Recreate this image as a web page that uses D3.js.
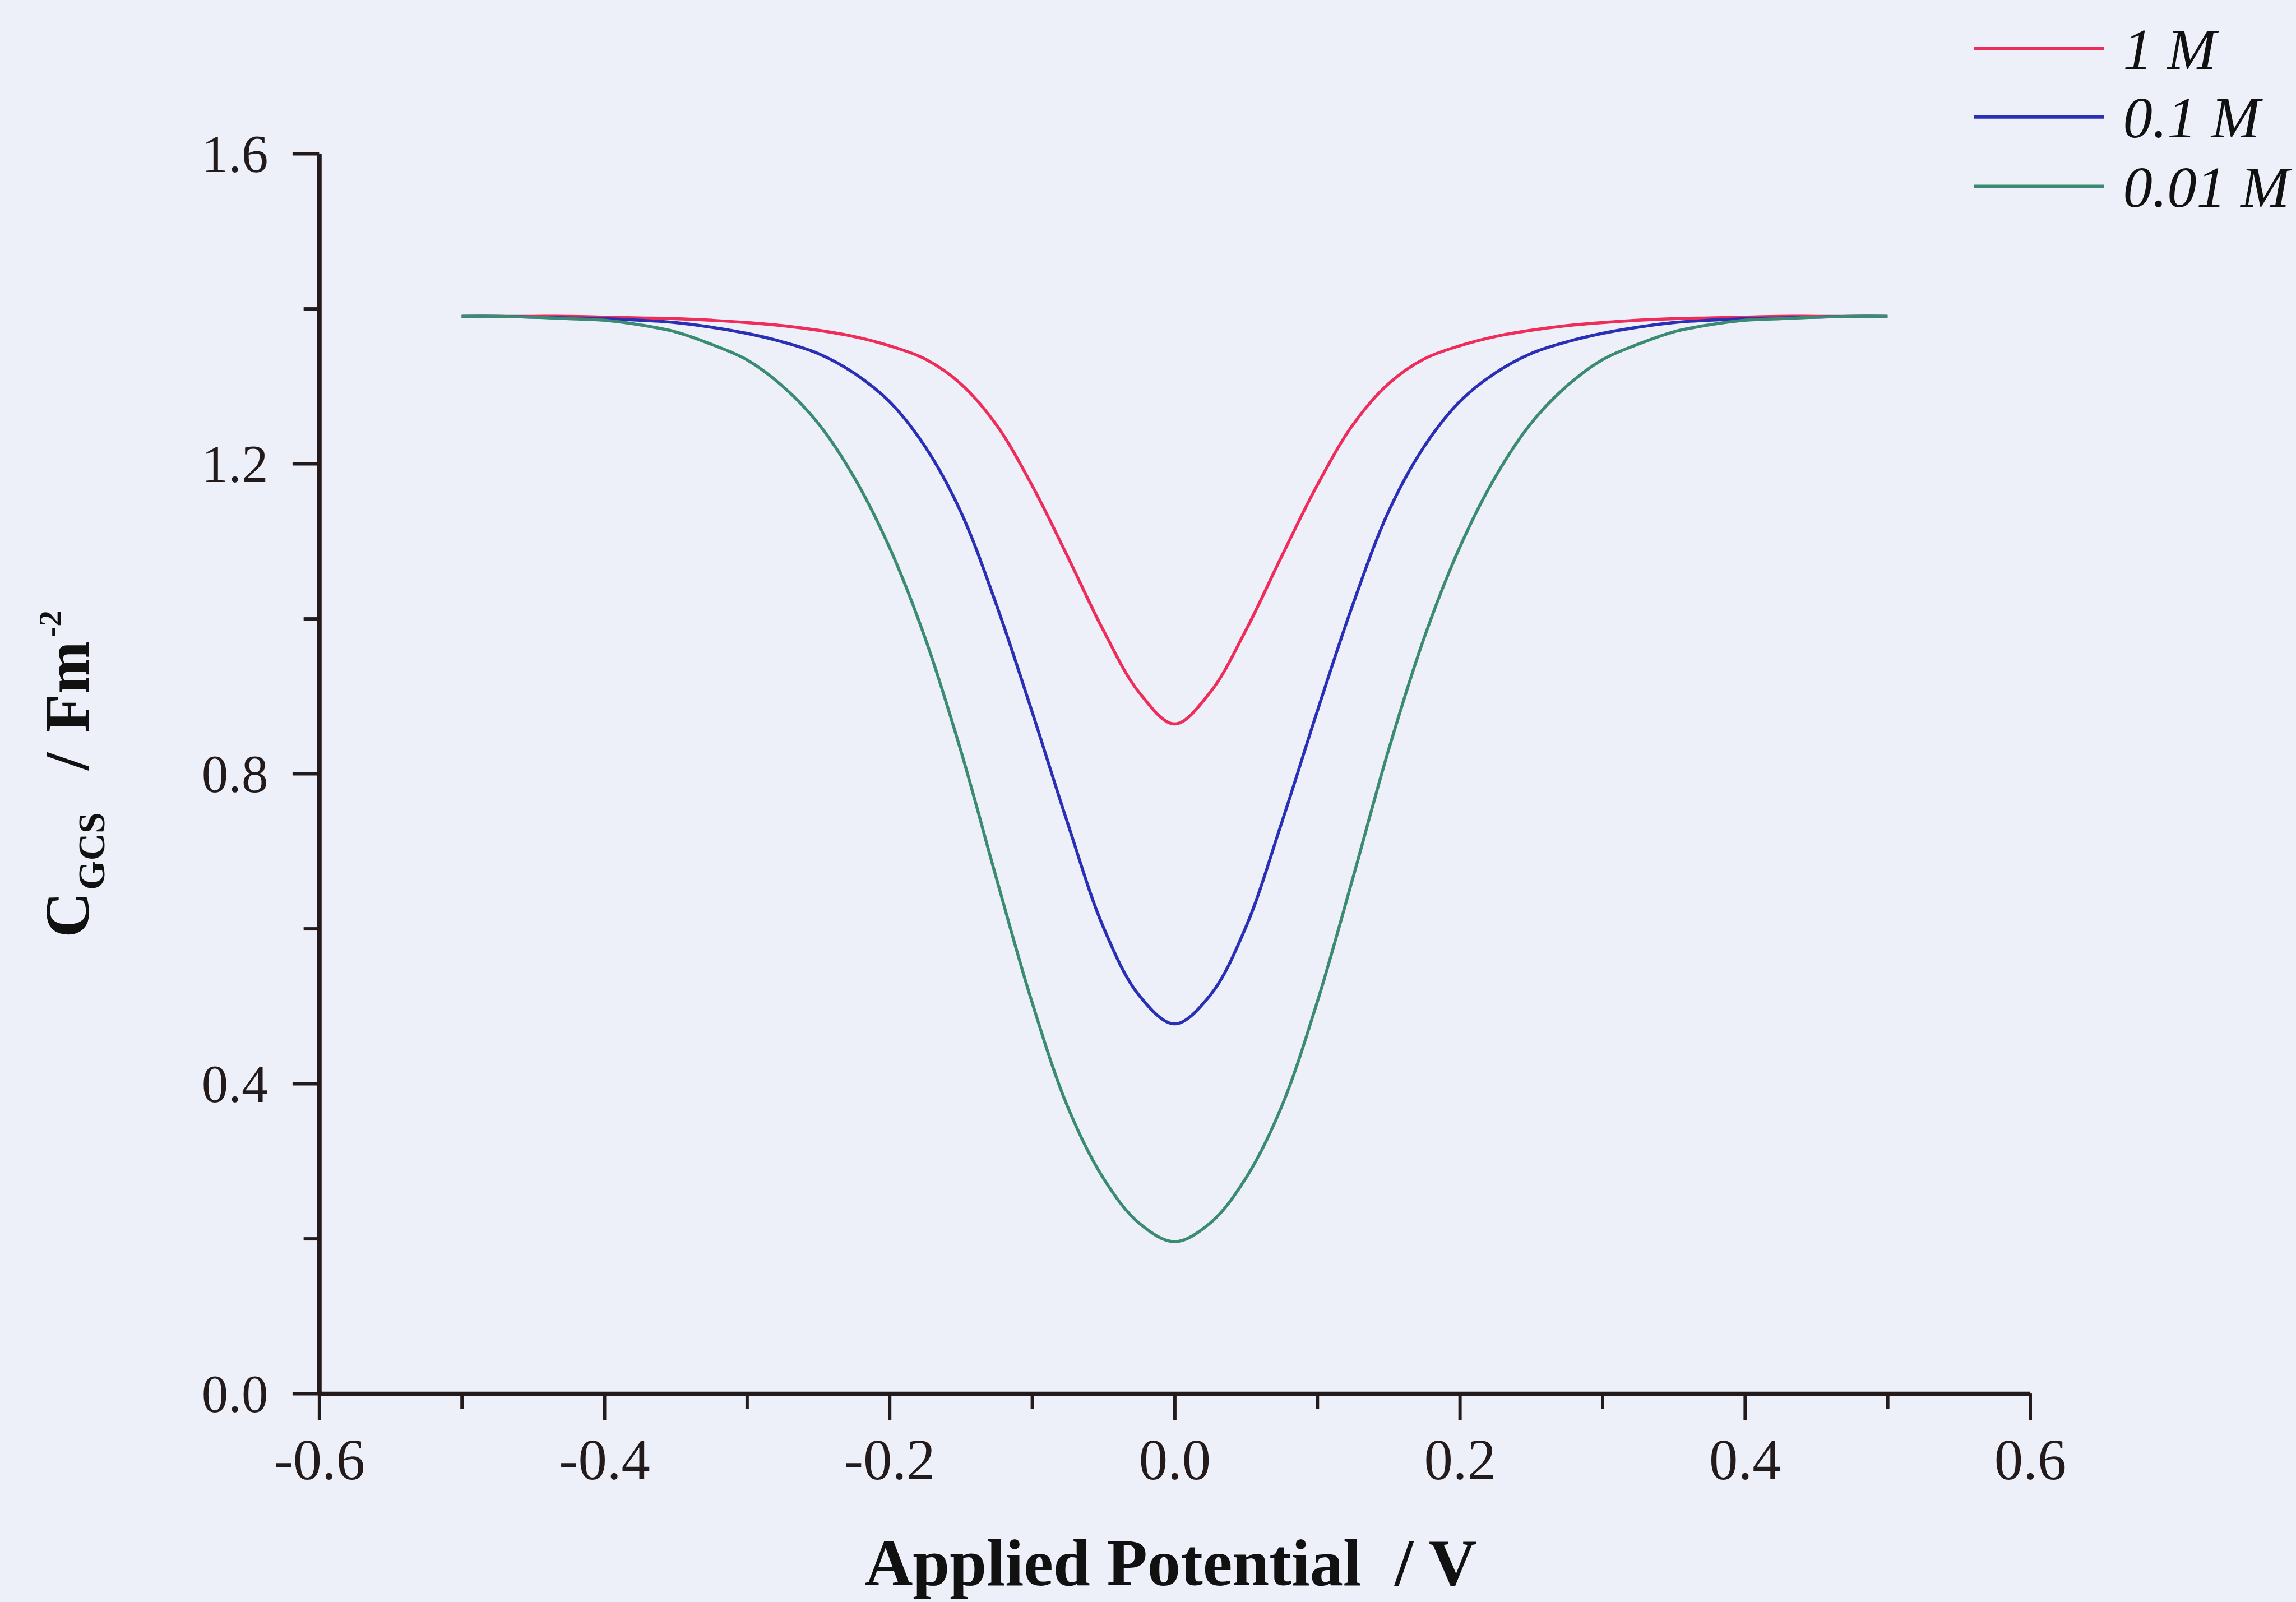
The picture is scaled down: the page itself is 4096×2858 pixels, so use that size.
<!DOCTYPE html>
<html><head><meta charset="utf-8">
<script src="https://cdn.jsdelivr.net/npm/d3@7"></script>
<style>html,body{margin:0;padding:0;background:#edf0f8;overflow:hidden}</style>
</head><body>
<script>
// ---- data ----
const potentials = [-0.5,-0.475,-0.45,-0.425,-0.4,-0.375,-0.35,-0.325,-0.3,-0.275,-0.25,-0.225,-0.2,-0.175,-0.15,-0.125,-0.1,-0.075,-0.05,-0.025,0,
  0.025,0.05,0.075,0.1,0.125,0.15,0.175,0.2,0.225,0.25,0.275,0.3,0.325,0.35,0.375,0.4,0.425,0.45,0.475,0.5];
const c1M = [1.390,1.390,1.390,1.390,1.389,1.388,1.387,1.385,1.382,1.378,1.372,1.364,1.352,1.335,1.303,1.250,1.172,1.080,0.985,0.905,0.864,
  0.905,0.985,1.080,1.172,1.250,1.303,1.335,1.352,1.364,1.372,1.378,1.382,1.385,1.387,1.388,1.389,1.390,1.390,1.390,1.390];
const c01M = [1.390,1.390,1.389,1.388,1.387,1.385,1.382,1.376,1.368,1.357,1.342,1.317,1.280,1.222,1.138,1.018,0.880,0.736,0.602,0.514,0.477,
  0.514,0.602,0.736,0.880,1.018,1.138,1.222,1.280,1.317,1.342,1.357,1.368,1.376,1.382,1.385,1.387,1.388,1.389,1.390,1.390];
const c001M = [1.390,1.390,1.389,1.387,1.385,1.379,1.370,1.354,1.334,1.300,1.252,1.183,1.092,0.975,0.830,0.665,0.505,0.370,0.278,0.220,0.196,
  0.220,0.278,0.370,0.505,0.665,0.830,0.975,1.092,1.183,1.252,1.300,1.334,1.354,1.370,1.379,1.385,1.387,1.389,1.390,1.390];
const seriesNames = ["1 M", "0.1 M", "0.01 M"];
const seriesColors = ["#ee2d5a", "#2a30b6", "#3b8a72"];
const xTickValues = [-0.6,-0.4,-0.2,0,0.2,0.4,0.6];
const xTickLabels = ["-0.6","-0.4","-0.2","0.0","0.2","0.4","0.6"];
const xMinorValues = [-0.5,-0.3,-0.1,0.1,0.3,0.5];
const yTickValues = [0,0.4,0.8,1.2,1.6];
const yTickLabels = ["0.0","0.4","0.8","1.2","1.6"];
const yMinorValues = [0.2,0.6,1.0,1.4];
const xTitle = "Applied Potential  / V";

// ---- drawing (reference coordinates, scaled by viewBox) ----
const W = 4144, H = 2891;
const svg = d3.select("body").append("svg")
  .attr("width", 4096).attr("height", 2858)
  .attr("viewBox", `0 0 ${W} ${H}`)
  .style("display","block");
svg.append("rect").attr("width", W).attr("height", H).attr("fill", "#edf0f8");

const x = d3.scaleLinear().domain([-0.6, 0.6]).range([576, 3664]);
const y = d3.scaleLinear().domain([0, 1.6]).range([2515, 277]);
const axisColor = "#231a1c";
const serif = "'Liberation Serif','Times New Roman',serif";

// series
const series = [c1M, c01M, c001M];
const line = d3.line().x((d,i)=>x(potentials[i])).y(d=>y(d)).curve(d3.curveCatmullRom.alpha(0.5));
series.forEach((vals, k) => {
  svg.append("path").datum(vals).attr("d", line)
    .attr("fill","none").attr("stroke", seriesColors[k]).attr("stroke-width", 5.5)
    .attr("stroke-linejoin","round");
});

// x axis
const gx = svg.append("g").attr("transform", `translate(0,${y(0)})`);
gx.call(d3.axisBottom(x).tickValues(xTickValues).tickSize(48).tickSizeOuter(0)
  .tickFormat((d,i)=>xTickLabels[i]));
gx.append("g").call(d3.axisBottom(x).tickValues(xMinorValues).tickSize(28).tickSizeOuter(0).tickFormat(""))
  .select(".domain").remove();
gx.selectAll("text").attr("y", 155).attr("dy", null)
  .attr("font-family", serif).attr("font-size", 104).attr("fill", axisColor);

// y axis
const gy = svg.append("g").attr("transform", `translate(${x(-0.6)},0)`);
gy.call(d3.axisLeft(y).tickValues(yTickValues).tickSize(48).tickSizeOuter(0)
  .tickFormat((d,i)=>yTickLabels[i]));
gy.append("g").call(d3.axisLeft(y).tickValues(yMinorValues).tickSize(28).tickSizeOuter(0).tickFormat(""))
  .select(".domain").remove();
gy.selectAll("text").attr("x", -92).attr("dy", "0.34em")
  .attr("font-family", serif).attr("font-size", 96).attr("fill", axisColor);

[gx, gy].forEach(g => {
  g.selectAll(".domain").attr("stroke", axisColor).attr("stroke-width", 8);
  g.selectAll(".tick line").attr("stroke", axisColor).attr("stroke-width", 6);
});

// x title
svg.append("text").attr("x", 2113).attr("y", 2861).attr("text-anchor","middle")
  .attr("font-family", serif).attr("font-weight","bold").attr("font-size", 120)
  .attr("fill", "#111").attr("xml:space","preserve").style("white-space","pre").text(xTitle);

// y title (rotated)
const yt = svg.append("g").attr("transform", "translate(160,0) rotate(-90)")
  .append("text").attr("font-family", serif).attr("font-weight","bold").attr("fill","#111");
yt.append("tspan").attr("x", -1692).attr("y", 0).attr("font-size", 114).text("C");
yt.append("tspan").attr("x", -1606).attr("y", 28).attr("font-size", 68).text("GCS");
yt.append("tspan").attr("x", -1390).attr("y", 0).attr("font-size", 114).text("/");
yt.append("tspan").attr("x", -1322).attr("y", 0).attr("font-size", 114).text("Fm");
yt.append("tspan").attr("x", -1150).attr("y", -50).attr("font-size", 58).text("-2");

// legend
const legY = [87, 211, 336];
seriesNames.forEach((name, k) => {
  svg.append("line").attr("x1", 3563).attr("x2", 3798).attr("y1", legY[k]).attr("y2", legY[k])
    .attr("stroke", seriesColors[k]).attr("stroke-width", 6);
  svg.append("text").attr("x", 3832).attr("y", legY[k] + 37)
    .attr("font-family", serif).attr("font-style","italic").attr("font-size", 106)
    .attr("fill", "#111").text(name);
});
</script>
</body></html>
